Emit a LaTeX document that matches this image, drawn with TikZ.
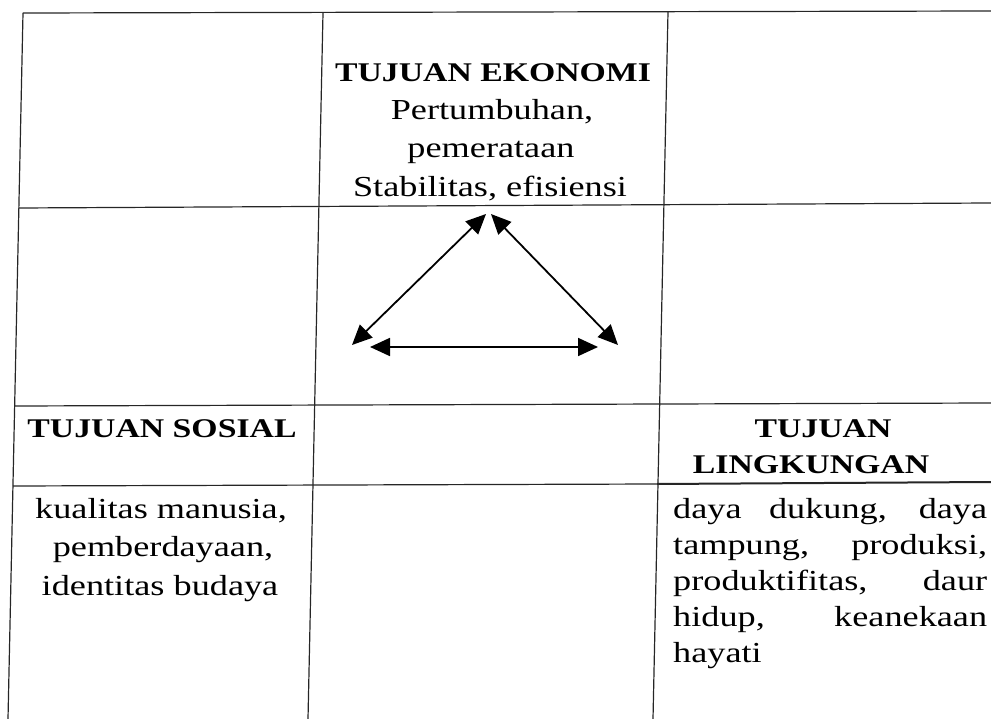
\documentclass[tikz,border=0pt]{standalone}
\usepackage{fontspec}
\setmainfont{Liberation Serif}[FakeStretch=1.25]
\usetikzlibrary{arrows.meta}
\begin{document}
\begin{tikzpicture}[x=1pt,y=-1pt,
  gridline/.style={draw=black!85, line width=1.2pt},
  body/.style={anchor=base, inner sep=0pt, font=\fontsize{29}{37}\selectfont},
  head/.style={anchor=base, inner sep=0pt, font=\fontsize{27}{36}\selectfont\bfseries},
  just/.style={anchor=base west, inner sep=0pt, font=\fontsize{29}{37}\selectfont},
  biarrow/.style={line width=1.8pt, {Triangle[length=20pt,width=18pt]}-{Triangle[length=20pt,width=18pt]}}]
\useasboundingbox (0,0) rectangle (991,719);
% grid
\draw[gridline] (23,13) -- (991,11);
\draw[gridline] (19,208) -- (991,203);
\draw[gridline] (15,406) -- (991,403);
\draw[gridline] (13,486) -- (657,484);
\draw[gridline, line width=2pt] (657,484) -- (991,482);
\draw[gridline] (23,13) -- (8,719);
\draw[gridline] (323,13) -- (308,719);
\draw[gridline] (668,12) -- (653,719);
% top cell
\node[head] (eko) at (493,82) {TUJUAN EKONOMI};
\node[body] (e1) at (492,120) {Pertumbuhan,};
\node[body] (e2) at (491,158) {pemerataan};
\node[body] (e3) at (490,197) {Stabilitas, efisiensi};
% left column
\node[head] (sos) at (162,437) {TUJUAN SOSIAL};
\node[body] (s1) at (161,518) {kualitas manusia,};
\node[body] (s2) at (163,556) {pemberdayaan,};
\node[body] (s3) at (160,595) {identitas budaya};
% right column
\node[head] (ling1) at (823,437) {TUJUAN};
\node[head] (ling2) at (811,473) {LINGKUNGAN};
\node[just] (l1) at (673,518) {\makebox[314pt][s]{daya dukung, daya}};
\node[just] (l2) at (673,554) {\makebox[314pt][s]{tampung, produksi,}};
\node[just] (l3) at (673,590) {\makebox[314pt][s]{produktifitas, daur}};
\node[just] (l4) at (673,626) {\makebox[314pt][s]{hidup, keanekaan}};
\node[just] (l5) at (673,662) {hayati};
% triangle of arrows
\coordinate (topL) at (486,214);
\coordinate (topR) at (491,214);
\coordinate (botL) at (352,345);
\coordinate (botR) at (618,345);
\coordinate (baseL) at (370,347);
\coordinate (baseR) at (598,347);
\draw[biarrow] (botL) -- (topL);
\draw[biarrow] (topR) -- (botR);
\draw[biarrow] (baseL) -- (baseR);
\end{tikzpicture}
\end{document}
